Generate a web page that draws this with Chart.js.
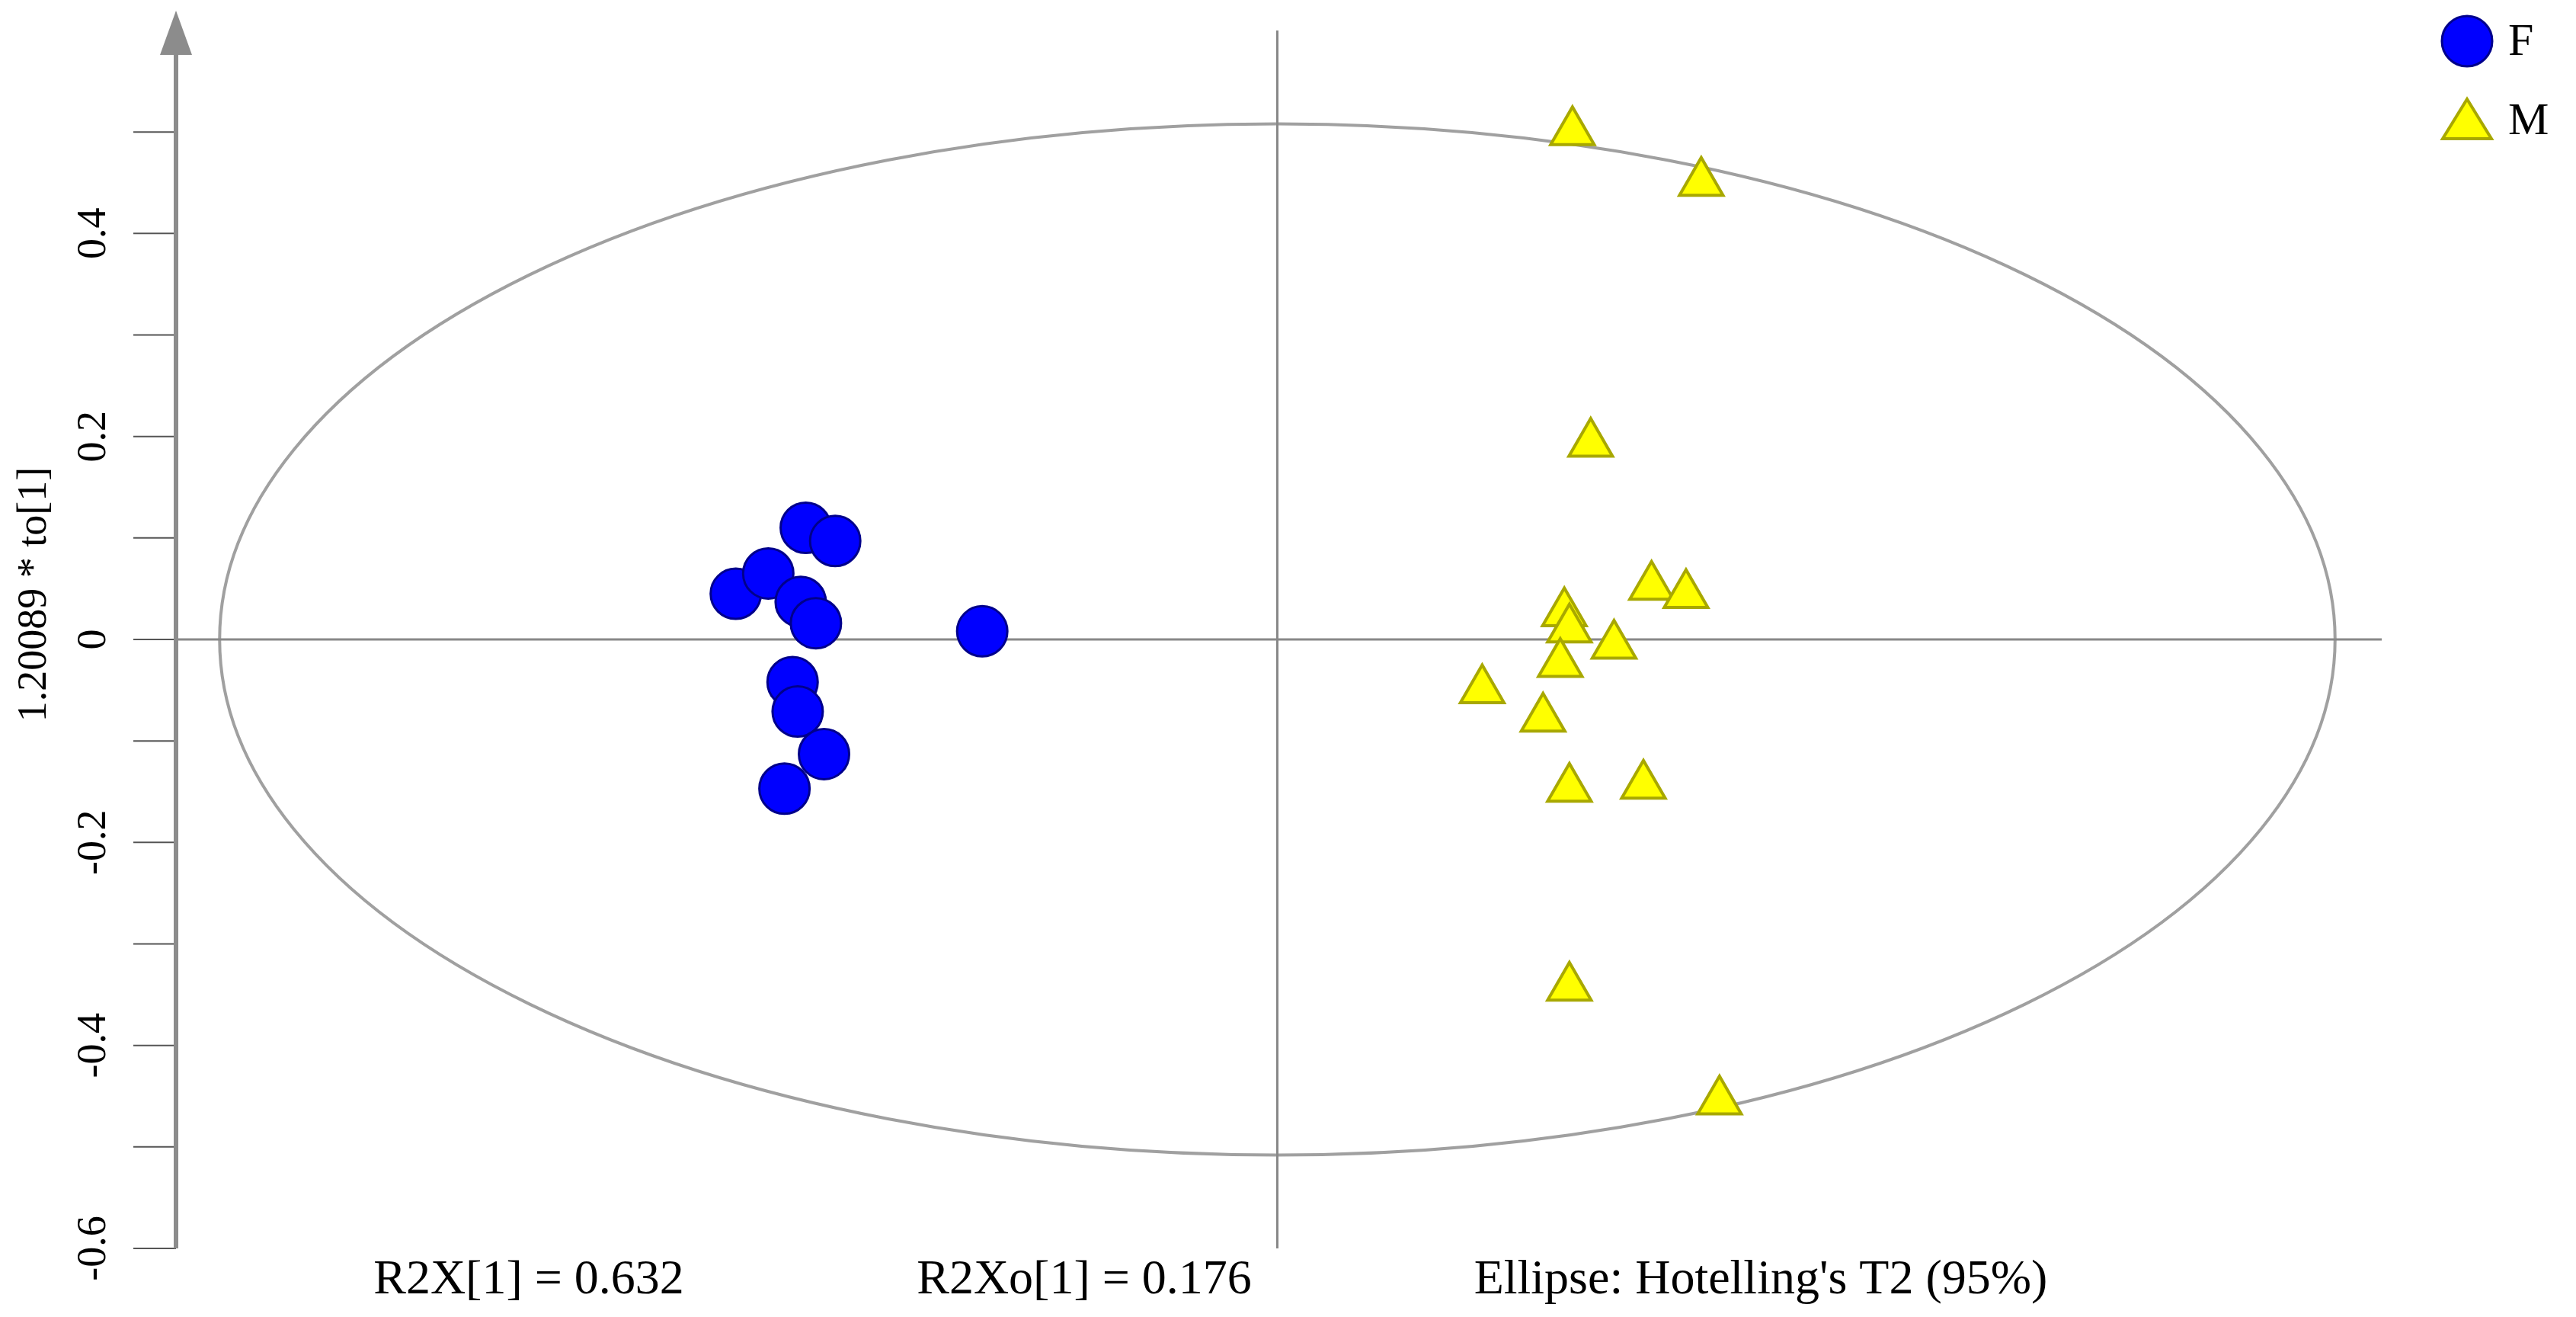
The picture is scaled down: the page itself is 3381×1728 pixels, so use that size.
<!DOCTYPE html>
<html><head><meta charset="utf-8">
<script src="https://cdn.jsdelivr.net/npm/chart.js@4"></script>
<style>html,body{margin:0;padding:0;background:#fff;overflow:hidden}#wrap{width:3381px;height:1728px}</style>
</head><body><div id="wrap"><canvas id="c"></canvas></div>
<script>
const seriesNames = ["F", "M"];
const fX = [-0.534,-0.502,-0.465,-0.436,-0.470,-0.455,-0.291,-0.478,-0.473,-0.447,-0.486];
const fY = [0.045,0.065,0.110,0.097,0.037,0.016,0.008,-0.042,-0.071,-0.113,-0.147];
const mX = [0.291,0.418,0.309,0.369,0.403,0.283,0.288,0.332,0.279,0.202,0.262,0.288,0.361,0.288,0.436];
const mY = [0.500,0.450,0.193,0.052,0.044,0.026,0.010,-0.006,-0.024,-0.050,-0.078,-0.147,-0.144,-0.343,-0.455];
const yTickLabels = ["-0.6","-0.4","-0.2","0","0.2","0.4"];
const ellipseRadii = [1.043, 0.508];
const footTexts = ["R2X[1] = 0.632", "R2Xo[1] = 0.176", "Ellipse: Hotelling's T2 (95%)"];
const yTitle = "1.20089 * to[1]";

const FONT = '"Liberation Serif", "DejaVu Serif", serif';
const GRAY = '#8c8c8c';

const deco = {
  id: 'deco',
  beforeDatasetsDraw(chart) {
    const ctx = chart.ctx, xs = chart.scales.x, ys = chart.scales.y;
    const x0 = xs.getPixelForValue(0), y0 = ys.getPixelForValue(0);
    ctx.save();
    const rx = xs.getPixelForValue(ellipseRadii[0]) - x0;
    const ry = y0 - ys.getPixelForValue(ellipseRadii[1]);
    ctx.strokeStyle = '#a0a0a0'; ctx.lineWidth = 4;
    ctx.beginPath(); ctx.ellipse(x0, y0, rx, ry, 0, 0, Math.PI * 2); ctx.stroke();
    ctx.strokeStyle = '#888'; ctx.lineWidth = 3;
    ctx.beginPath();
    ctx.moveTo(xs.left, y0); ctx.lineTo(xs.right, y0);
    ctx.moveTo(x0, ys.top); ctx.lineTo(x0, ys.bottom);
    ctx.stroke();
    const ax = xs.left;
    ctx.strokeStyle = '#555'; ctx.lineWidth = 2;
    for (let v = -6; v <= 5; v++) {
      const py = ys.getPixelForValue(v / 10);
      ctx.beginPath(); ctx.moveTo(ax - 56, py); ctx.lineTo(ax, py); ctx.stroke();
    }
    ctx.strokeStyle = GRAY; ctx.lineWidth = 6;
    ctx.beginPath(); ctx.moveTo(ax, ys.getPixelForValue(-0.6)); ctx.lineTo(ax, 70); ctx.stroke();
    ctx.fillStyle = GRAY;
    ctx.beginPath(); ctx.moveTo(ax, 14); ctx.lineTo(ax - 21, 72); ctx.lineTo(ax + 21, 72); ctx.closePath(); ctx.fill();
    ctx.fillStyle = '#000'; ctx.font = '54px ' + FONT;
    ctx.textAlign = 'center'; ctx.textBaseline = 'middle';
    yTickLabels.forEach(t => {
      const py = ys.getPixelForValue(parseFloat(t));
      ctx.save(); ctx.translate(124, py); ctx.rotate(-Math.PI / 2); ctx.fillText(t, 0, 0); ctx.restore();
    });
    ctx.save(); ctx.translate(46, 780); ctx.rotate(-Math.PI / 2); ctx.fillText(yTitle, 0, 0); ctx.restore();
    ctx.font = '64px ' + FONT;
    const fx = [694, 1423, 2311];
    footTexts.forEach((t, i) => ctx.fillText(t, fx[i], 1680));
    ctx.textAlign = 'left';
    ctx.fillStyle = '#0000ff'; ctx.strokeStyle = '#00008b'; ctx.lineWidth = 3;
    ctx.beginPath(); ctx.arc(3238, 54, 33, 0, Math.PI * 2); ctx.fill(); ctx.stroke();
    ctx.fillStyle = '#ffff00'; ctx.strokeStyle = '#a8a800'; ctx.lineWidth = 4;
    ctx.beginPath(); ctx.moveTo(3238, 130); ctx.lineTo(3206, 182); ctx.lineTo(3270, 182); ctx.closePath(); ctx.fill(); ctx.stroke();
    ctx.fillStyle = '#000'; ctx.font = '60px ' + FONT;
    ctx.fillText(seriesNames[0], 3292, 56);
    ctx.fillText(seriesNames[1], 3292, 160);
    ctx.restore();
  }
};

new Chart(document.getElementById('c'), {
  type: 'scatter',
  data: { datasets: [
    { label: seriesNames[0], data: fX.map((x, i) => ({ x, y: fY[i] })), pointStyle: 'circle', pointRadius: 33,
      backgroundColor: '#0000ff', borderColor: '#00008b', borderWidth: 3 },
    { label: seriesNames[1], data: mX.map((x, i) => ({ x, y: mY[i] })), pointStyle: 'triangle', pointRadius: 33,
      backgroundColor: '#ffff00', borderColor: '#a8a800', borderWidth: 4 }
  ]},
  options: {
    responsive: true, maintainAspectRatio: false, devicePixelRatio: 1, animation: false,
    layout: { padding: { left: 231, right: 3381 - 3126, top: 40, bottom: 1728 - 1638 } },
    plugins: { legend: { display: false }, tooltip: { enabled: false } },
    scales: {
      x: { type: 'linear', min: -1.086, max: 1.089, display: false },
      y: { type: 'linear', min: -0.6, max: 0.6, display: false }
    }
  },
  plugins: [deco]
});
</script></body></html>
